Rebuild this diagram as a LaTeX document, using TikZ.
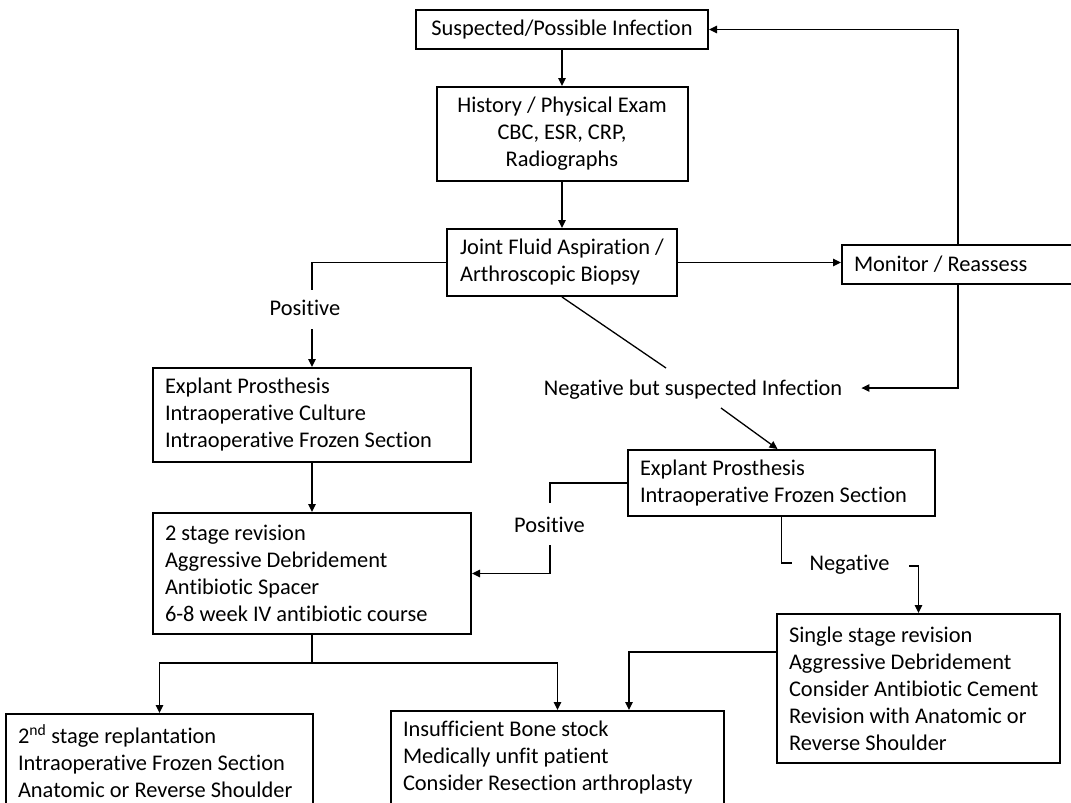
\documentclass[tikz,border=0pt]{standalone}
\usepackage{fontspec}
\setmainfont{Carlito}[Ligatures={NoCommon}]
\usetikzlibrary{arrows.meta}
\begin{document}
\begin{tikzpicture}[x=1pt,y=-1pt,
  every node/.style={font=\fontsize{22.4}{27}\selectfont, text=black},
  box/.style={draw, line width=2pt, inner xsep=12pt, inner ysep=0pt},
  lbox/.style={box, align=flush left, text width=#1},
  cbox/.style={box, align=center},
  lab/.style={inner sep=0pt, text height=14.4pt, text depth=0pt},
  line/.style={line width=1.3pt},
  arr/.style={line width=1.3pt, -{Triangle[length=8pt,width=7.5pt]}}]
\useasboundingbox (0,0) rectangle (1071,803);
\clip (0,0) rectangle (1071,803);
\fill[white] (0,0) rectangle (1071,803);

% boxes
\node[cbox, minimum width=292pt, minimum height=39pt] (b1) at (562,29.5) {Suspected/Possible Infection};
\node[cbox, minimum width=251pt, minimum height=94pt] (b2) at (562,134) {History / Physical Exam\\CBC, ESR, CRP,\\Radiographs};
\node[box, align=flush left, inner xsep=10pt, minimum width=230pt, minimum height=67pt] (b3) at (562,262.5) {Joint Fluid Aspiration /\\Arthroscopic Biopsy};
\node[lbox=226pt, anchor=west, minimum height=39pt] (mon) at (841,264.5) {Monitor / Reassess};
\node[lbox=294pt, minimum height=94pt] (b4) at (312,415) {Explant Prosthesis\\Intraoperative Culture\\Intraoperative Frozen Section};
\node[lbox=294pt, minimum height=121pt] (b5) at (312,573.5) {2 stage revision\\Aggressive Debridement\\Antibiotic Spacer\\6-8 week IV antibiotic course};
\node[lbox=283pt, minimum height=94pt] (b6) at (159.5,761) {2\textsuperscript{nd} stage replantation\\Intraoperative Frozen Section\\Anatomic or Reverse Shoulder};
\node[lbox=309pt, minimum height=94pt] (b7) at (557.5,758) {Insufficient Bone stock\\Medically unfit patient\\Consider Resection arthroplasty};
\node[lbox=283pt, minimum height=66pt] (b8) at (781.5,483) {Explant Prosthesis\\Intraoperative Frozen Section};
\node[lbox=259pt, minimum height=149pt] (b9) at (918.5,688.5) {Single stage revision\\Aggressive Debridement\\Consider Antibiotic Cement\\Revision with Anatomic or\\Reverse Shoulder};

% labels
\node[lab] (pos1) at (305,308) {Positive};
\node[lab] (neg1) at (693,388) {Negative but suspected Infection};
\node[lab] (pos2) at (549.5,525) {Positive};
\node[lab] (neg2) at (849.5,563) {Negative};

% helper coordinates
\coordinate (c1) at (312,290);
\coordinate (c2) at (312,329);
\coordinate (d1) at (666,368);
\coordinate (d2) at (721,408);
\coordinate (c3) at (550,503);
\coordinate (c4) at (550,545);
\coordinate (c5) at (792,563);
\coordinate (c6) at (909,566);
\coordinate (j) at (312,663);

% connectors
\draw[arr] (b1) -- (b2);
\draw[arr] (b2) -- (b3);
\draw[line] (b3.west) -| (c1);
\draw[arr] (c2) -- (b4);
\draw[arr] (b3.east) -- (b3.east -| mon.west);
\draw[arr] ([xshift=117pt]mon.north west) |- (b1.east);
\draw[arr] ([xshift=117pt]mon.south west) |- ([xshift=19pt]neg1.east);
\draw[line] (b3.south) -- (d1);
\draw[arr] (d2) -- ([xshift=-4pt]b8.north);
\draw[arr] (b4) -- (b5);
\draw[line] (b8.west) -| (c3);
\draw[arr] (c4) |- (b5.east);
\draw[line] (b8.south) |- (c5);
\draw[arr] (c6) -| (b9.north);
\draw[line] (b5.south) -- (j);
\draw[arr] (j) -| (b6.north);
\draw[arr] (j) -| (b7.north);
\draw[arr] ([yshift=-39pt]b9.north west) -| ([xshift=71.5pt]b7.north);
\end{tikzpicture}
\end{document}
